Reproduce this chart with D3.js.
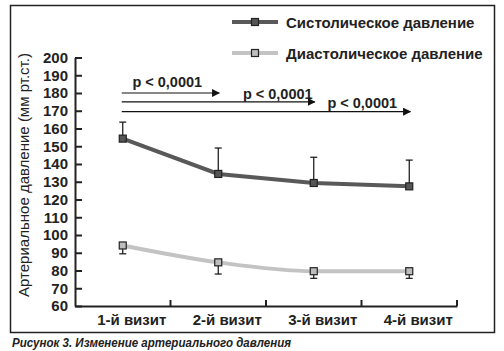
<!DOCTYPE html>
<html>
<head>
<meta charset="utf-8">
<script src="https://cdn.jsdelivr.net/npm/d3@7"></script>
<style>
  body { margin: 0; background: #fff; }
  svg { display: block; font-family: "Liberation Sans", Arial, sans-serif; }
</style>
</head>
<body>
<div id="chart"></div>
<script>
// data
const visits = ['1-й визит', '2-й визит', '3-й визит', '4-й визит'];
const systolic = [154.3, 134.4, 129.3, 127.4];
const systolicTop = [163.6, 149, 143.8, 142.2];
const diastolic = [94.1, 84.6, 79.6, 79.6];
const diastolicBottom = [89.4, 78, 75.6, 75.6];
const yTicks = [60, 70, 80, 90, 100, 110, 120, 130, 140, 150, 160, 170, 180, 190, 200];
const arrowTargets = [1, 2, 3];
const arrowLevels = [180, 175, 169.5];
const pLabels = ['p < 0,0001', 'p < 0,0001', 'p < 0,0001'];

const width = 504, height = 351;

const svg = d3.select('#chart').append('svg')
  .attr('width', width)
  .attr('height', height);

// frame
svg.append('rect')
  .attr('x', 10.5).attr('y', 5.5)
  .attr('width', 484).attr('height', 327)
  .attr('fill', 'none')
  .attr('stroke', '#222')
  .attr('stroke-width', 1.5);

// caption (condensed in the original, so squeeze it)
svg.append('text')
  .attr('x', 12).attr('y', 347)
  .attr('textLength', 279)
  .attr('lengthAdjust', 'spacingAndGlyphs')
  .style('font-size', '13px')
  .style('font-weight', 'bold')
  .style('font-style', 'italic')
  .attr('fill', '#222')
  .text('Рисунок 3. Изменение артериального давления');

let x = d3.scaleBand().domain(visits).range([75, 457]);
let y = d3.scaleLinear().domain([60, 200]).range([306, 57.5]);
const cx = d => x(d) + x.bandwidth() / 2;

// y axis
const yAxis = svg.append('g')
  .attr('transform', 'translate(75,0)')
  .call(d3.axisLeft(y).tickValues(yTicks).tickSize(-7).tickPadding(7).tickSizeOuter(0));
yAxis.select('.domain').attr('stroke', '#222').attr('stroke-width', 2);
yAxis.selectAll('.tick line').attr('stroke', '#222').attr('stroke-width', 2);
yAxis.selectAll('.tick text')
  .attr('fill', '#222')
  .style('font-size', '15px')
  .style('font-weight', 'bold')
  .style('font-family', '"Liberation Sans", Arial, sans-serif');

// x axis
const xAxis = svg.append('g')
  .attr('transform', 'translate(0,306)')
  .call(d3.axisBottom(x).tickSize(0).tickPadding(8).tickSizeOuter(0));
xAxis.select('.domain').attr('stroke', '#222').attr('stroke-width', 2);
xAxis.selectAll('.tick text')
  .attr('dx', 9)
  .attr('fill', '#222')
  .style('font-size', '15px')
  .style('font-weight', 'bold')
  .style('font-family', '"Liberation Sans", Arial, sans-serif');
// ticks at band boundaries
xAxis.selectAll('.bound')
  .data(visits)
  .enter().append('line')
  .attr('x1', d => x(d) + x.bandwidth())
  .attr('x2', d => x(d) + x.bandwidth())
  .attr('y1', 0).attr('y2', -6)
  .attr('stroke', '#222').attr('stroke-width', 2);

// y axis title
svg.append('text')
  .attr('transform', 'translate(29,175) rotate(-90)')
  .attr('text-anchor', 'middle')
  .style('font-size', '15px')
  .attr('fill', '#222')
  .text('Артериальное давление (мм рт.ст.)');

// arrows
svg.append('defs').append('marker')
  .attr('id', 'arr')
  .attr('viewBox', '0 0 10 10')
  .attr('refX', 9).attr('refY', 5)
  .attr('markerWidth', 8).attr('markerHeight', 8)
  .attr('markerUnits', 'userSpaceOnUse')
  .attr('orient', 'auto')
  .append('path')
  .attr('d', 'M0,0L10,5L0,10Z')
  .attr('fill', '#111');

svg.selectAll('.arrow')
  .data(arrowTargets)
  .enter().append('line')
  .attr('class', 'arrow')
  .attr('x1', cx(visits[0]) - 1)
  .attr('x2', d => cx(visits[d]) + 1)
  .attr('y1', (d, i) => y(arrowLevels[i]))
  .attr('y2', (d, i) => y(arrowLevels[i]))
  .attr('stroke', '#111')
  .attr('stroke-width', 1.1)
  .attr('marker-end', 'url(#arr)');

// label placement tweaks (pixels relative to arrow end / height)
const labelDx = [-51, -36, -47];
const labelDy = [-6, -2.5, -3.5];
svg.selectAll('.plab')
  .data(arrowTargets)
  .enter().append('text')
  .attr('class', 'plab')
  .attr('x', (d, i) => cx(visits[d]) + labelDx[i])
  .attr('y', (d, i) => y(arrowLevels[i]) + labelDy[i])
  .attr('text-anchor', 'middle')
  .style('font-size', '14.5px')
  .style('font-weight', 'bold')
  .attr('fill', '#222')
  .text((d, i) => pLabels[i]);

// error bars
function errorBars(means, ends, cls) {
  const g = svg.append('g').attr('class', cls);
  visits.forEach((v, i) => {
    g.append('line')
      .attr('x1', cx(v)).attr('x2', cx(v))
      .attr('y1', y(means[i])).attr('y2', y(ends[i]))
      .attr('stroke', '#111').attr('stroke-width', 1.2);
    g.append('line')
      .attr('x1', cx(v) - 3.5).attr('x2', cx(v) + 3.5)
      .attr('y1', y(ends[i])).attr('y2', y(ends[i]))
      .attr('stroke', '#111').attr('stroke-width', 1.2);
  });
}
errorBars(systolic, systolicTop, 'err-sys');
errorBars(diastolic, diastolicBottom, 'err-dia');

// lines
const sysLine = d3.line().x((d, i) => cx(visits[i])).y(d => y(d));
const diaLine = d3.line().x((d, i) => cx(visits[i])).y(d => y(d)).curve(d3.curveMonotoneX);

svg.append('path')
  .attr('d', sysLine(systolic))
  .attr('fill', 'none')
  .attr('stroke', '#595959')
  .attr('stroke-width', 4);

svg.append('path')
  .attr('d', diaLine(diastolic))
  .attr('fill', 'none')
  .attr('stroke', '#c3c3c3')
  .attr('stroke-width', 4);

// markers
function squares(vals, fill) {
  svg.append('g').selectAll('rect')
    .data(vals)
    .enter().append('rect')
    .attr('x', (d, i) => cx(visits[i]) - 3.5)
    .attr('y', d => y(d) - 3.5)
    .attr('width', 7).attr('height', 7)
    .attr('fill', fill)
    .attr('stroke', '#222')
    .attr('stroke-width', 1.2);
}
squares(systolic, '#555');
squares(diastolic, '#bdbdbd');

// legend
const legend = [
  { name: 'Систолическое давление', line: '#595959', fill: '#555', y: 22 },
  { name: 'Диастолическое давление', line: '#c3c3c3', fill: '#bdbdbd', y: 53 }
];
const lg = svg.append('g').selectAll('g')
  .data(legend)
  .enter().append('g')
  .attr('transform', d => 'translate(0,' + d.y + ')');
lg.append('line')
  .attr('x1', 232).attr('x2', 278)
  .attr('stroke', d => d.line)
  .attr('stroke-width', 4);
lg.append('rect')
  .attr('x', 251.5).attr('y', -3.5)
  .attr('width', 7).attr('height', 7)
  .attr('fill', d => d.fill)
  .attr('stroke', '#222')
  .attr('stroke-width', 1.2);
lg.append('text')
  .attr('x', 286).attr('y', 6)
  .style('font-size', '15px')
  .style('font-weight', 'bold')
  .attr('fill', '#222')
  .text(d => d.name);
</script>
</body>
</html>
